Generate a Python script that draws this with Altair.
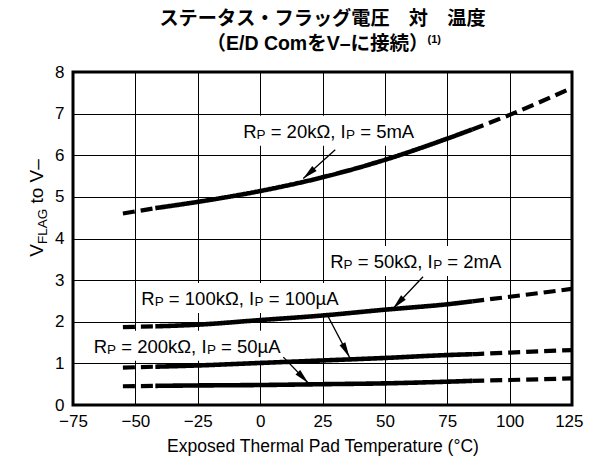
import math
import altair as alt
import pandas as pd

# ---------------- data ----------------
temps = [-55, -42, -25, 0, 25, 50, 75, 85, 100, 125]
v_20k = [4.60, 4.73, 4.88, 5.14, 5.47, 5.89, 6.40, 6.62, 6.97, 7.62]
v_50k = [1.87, 1.89, 1.93, 2.04, 2.15, 2.29, 2.42, 2.49, 2.60, 2.79]
v_100k = [0.90, 0.92, 0.95, 1.01, 1.07, 1.13, 1.20, 1.22, 1.26, 1.32]
v_200k = [0.45, 0.46, 0.47, 0.48, 0.50, 0.52, 0.56, 0.58, 0.60, 0.64]
series_names = ["20k", "50k", "100k", "200k"]
series_vals = [v_20k, v_50k, v_100k, v_200k]
solid_from = -42
solid_to = 85

x_ticks = [-75, -50, -25, 0, 25, 50, 75, 100, 125]
y_ticks = [0, 1, 2, 3, 4, 5, 6, 7, 8]

# label texts: (R value, I value)
label_r = ["20kΩ", "50kΩ", "100kΩ", "200kΩ"]
label_i = ["5mA", "2mA", "100µA", "50µA"]

title_1 = "ステータス・フラッグ電圧　対　温度"
title_2 = "（E/D ComをV–に接続）"
title_note = "(1)"
x_title = "Exposed Thermal Pad Temperature (°C)"

# ---------------- layout ----------------
W, H = 499, 333
PXT = W / 200.0  # px per degree
PXV = H / 8.0    # px per volt
FONT = "Liberation Sans"
TFONT = "Liberation Sans, Noto Sans CJK JP"
MAIN, SUB = 18.5, 13.5
T1_SIZE, T2_SIZE = 19.2, 19.5

# annotation anchors (start of text, baseline) in data units
label_pos = [(-6.8, 6.42), (28.1, 3.29), (-47.6, 2.40), (-66.7, 1.257)]
# arrows: (start t, start v, tip t, tip v)
arrows = [(30.1, 6.13, 17.3, 5.44), (65.3, 3.08, 53.3, 2.32),
          (26.5, 2.21, 35.8, 1.15), (9.3, 1.15, 19.3, 0.53)]

EM = {'R': .722, 'P': .667, ' ': .278, '=': .584, 'k': .5,
      'Ω': .768, ',': .278, 'I': .278, 'm': .833, 'A': .667, 'µ': .576,
      't': .278, 'o': .556, 'V': .667, '–': .556, 'F': .611, 'L': .556, 'G': .778}
EM_BOLD = {'E': .667, '/': .278, 'D': .722, ' ': .278, 'C': .722, 'o': .611,
           'm': .889, 'V': .667, '–': .556}


def width(s, size):
    return sum(EM.get(c, .556) for c in s) * size


def place(pieces):
    """pieces: (text, size, is_sub). Returns (text, size, is_sub, offset_px), total."""
    out, cum = [], 0.0
    for s, size, sub in pieces:
        lead = len(s) - len(s.lstrip(" "))
        cum += lead * EM[' '] * size
        core = s.strip(" ")
        out.append((core, size, sub, cum))
        cum += width(core, size)
    return out, cum


def to_t(px):
    return -75 + px / PXT


def to_v(py):
    return 8 - py / PXV


# ---------------- curves ----------------
rows = []
for name, vals in zip(series_names, series_vals):
    for t, v in zip(temps, vals):
        if t <= solid_from:
            rows.append(dict(s=name, seg=name + "a", style="dash", t=t, v=v))
        if solid_from <= t <= solid_to:
            rows.append(dict(s=name, seg=name + "b", style="solid", t=t, v=v))
        if t >= solid_to:
            rows.append(dict(s=name, seg=name + "c", style="dash", t=t, v=v))
curves = pd.DataFrame(rows)

xs = alt.Scale(domain=[-75, 125], nice=False, zero=False)
ys = alt.Scale(domain=[0, 8], nice=False, zero=False)

x_axis = alt.Axis(values=x_ticks, title=x_title, titleFont=FONT, titleFontSize=17.5,
                  titleFontWeight="normal", titleColor="black", titlePadding=8,
                  labelFont=FONT, labelFontSize=17, labelColor="black", labelPadding=8,
                  labelFlush=False,
                  labelAlign={"condition": {"test": "datum.value == 125", "value": "right"},
                              "value": "center"},
                  labelOffset={"condition": {"test": "datum.value == 125", "value": 11},
                               "value": 0},
                  grid=True, gridColor="black", gridWidth=1,
                  domain=False, ticks=False)
y_axis = alt.Axis(values=y_ticks, title=None, labelFont=FONT, labelFontSize=17,
                  labelColor="black", labelPadding=9, grid=True, gridColor="black",
                  gridWidth=1, domain=False, ticks=False)

lines = alt.Chart(curves).mark_line(color="black", interpolate="monotone").encode(
    x=alt.X("t:Q", scale=xs, axis=x_axis),
    y=alt.Y("v:Q", scale=ys, axis=y_axis),
    detail="seg:N",
    strokeDash=alt.StrokeDash("style:N", scale=alt.Scale(domain=["solid", "dash"],
                              range=[[1, 0], [12, 6]]), legend=None),
    strokeWidth=alt.StrokeWidth("style:N", scale=alt.Scale(domain=["solid", "dash"],
                                range=[4.6, 4.2]), legend=None),
)

# ---------------- labels ----------------
txt_rows, box_rows = [], []
for (t0, v0), r, i in zip(label_pos, label_r, label_i):
    pieces = [("R", MAIN, 0), ("P", SUB, 1), (" = " + r + ", I", MAIN, 0),
              ("P", SUB, 1), (" = " + i, MAIN, 0)]
    placed, total = place(pieces)
    for s, size, sub, off in placed:
        txt_rows.append(dict(t=t0 + off / PXT, v=v0 - sub * 1.0 / PXV, text=s, size=size))
    box_rows.append(dict(t=t0 - 4 / PXT, t2=t0 + (total + 4) / PXT,
                         v=v0 + 22 / PXV, v2=v0 - 8 / PXV))
txt = pd.DataFrame(txt_rows)
boxes = pd.DataFrame(box_rows)

box_layer = alt.Chart(boxes).mark_rect(color="white").encode(
    x=alt.X("t:Q", scale=xs), x2="t2", y=alt.Y("v:Q", scale=ys), y2="v2")

text_layer = alt.Chart(txt).mark_text(align="left", baseline="alphabetic", font=FONT,
                                      color="black").encode(
    x=alt.X("t:Q", scale=xs), y=alt.Y("v:Q", scale=ys), text="text:N",
    size=alt.Size("size:Q", scale=None))

# ---------------- arrows ----------------
arr_rows = []
for t1, v1, t2, v2 in arrows:
    dxp = (t2 - t1) * PXT
    dyp = -(v2 - v1) * PXV
    ang = math.degrees(math.atan2(dxp, -dyp)) % 360
    arr_rows.append(dict(t=t1, v=v1, t2=t2, v2=v2, ang=ang))
arr = pd.DataFrame(arr_rows)

shafts = alt.Chart(arr).mark_rule(color="black", strokeWidth=1.3).encode(
    x=alt.X("t:Q", scale=xs), y=alt.Y("v:Q", scale=ys), x2="t2", y2="v2")
heads = alt.Chart(arr).mark_point(shape="M0,0 L-0.65,3 L0.65,3 Z", filled=True,
                                  color="black", opacity=1, size=100).encode(
    x=alt.X("t2:Q", scale=xs), y=alt.Y("v2:Q", scale=ys),
    angle=alt.Angle("ang:Q", scale=None))

# ---------------- y-axis title with subscript ----------------
yplaced, L = place([("V", 19, 0), ("FLAG", 13.5, 1), (" to V–", 19, 0)])
center_y = 136.0
start_y = center_y + L / 2
base_x = -30.0
yt_rows = []
for s, sz, sub, off in yplaced:
    xp = base_x + sub * 3.5
    yp = start_y - off
    yt_rows.append(dict(t=to_t(xp), v=to_v(yp), text=s, size=sz))
ytitle = alt.Chart(pd.DataFrame(yt_rows)).mark_text(
    align="left", baseline="alphabetic", angle=270, font=FONT, color="black").encode(
    x=alt.X("t:Q", scale=xs), y=alt.Y("v:Q", scale=ys), text="text:N",
    size=alt.Size("size:Q", scale=None))

# ---------------- two-line title drawn as text ----------------
t2_width = sum(EM_BOLD.get(c, 1.0) for c in title_2) * T2_SIZE
t2_center = W / 2 - 5
title_rows = pd.DataFrame([
    dict(t=to_t(W / 2), v=to_v(-53), text=title_1, size=T1_SIZE),
    dict(t=to_t(t2_center), v=to_v(-28), text=title_2, size=T2_SIZE),
])
title_layer = alt.Chart(title_rows).mark_text(
    align="center", baseline="middle", font=TFONT, fontWeight="bold", color="black").encode(
    x=alt.X("t:Q", scale=xs), y=alt.Y("v:Q", scale=ys), text="text:N",
    size=alt.Size("size:Q", scale=None))

note_x = t2_center + t2_width / 2 - 1
note = alt.Chart(pd.DataFrame([dict(t=to_t(note_x), v=to_v(-32), text=title_note)])).mark_text(
    align="left", baseline="middle", font=FONT, fontSize=11, fontWeight="bold",
    color="black").encode(x=alt.X("t:Q", scale=xs), y=alt.Y("v:Q", scale=ys),
                          text="text:N")

chart = alt.layer(box_layer, lines, shafts, heads, text_layer, ytitle, title_layer,
                  note).properties(
    width=W, height=H,
    autosize=alt.AutoSizeParams(type="none"),
    padding={"left": 65, "top": 64, "right": 12, "bottom": 56},
).configure_view(stroke="black", strokeWidth=3)

chart.save("out.html", embed_options={"renderer": "svg", "actions": False})
